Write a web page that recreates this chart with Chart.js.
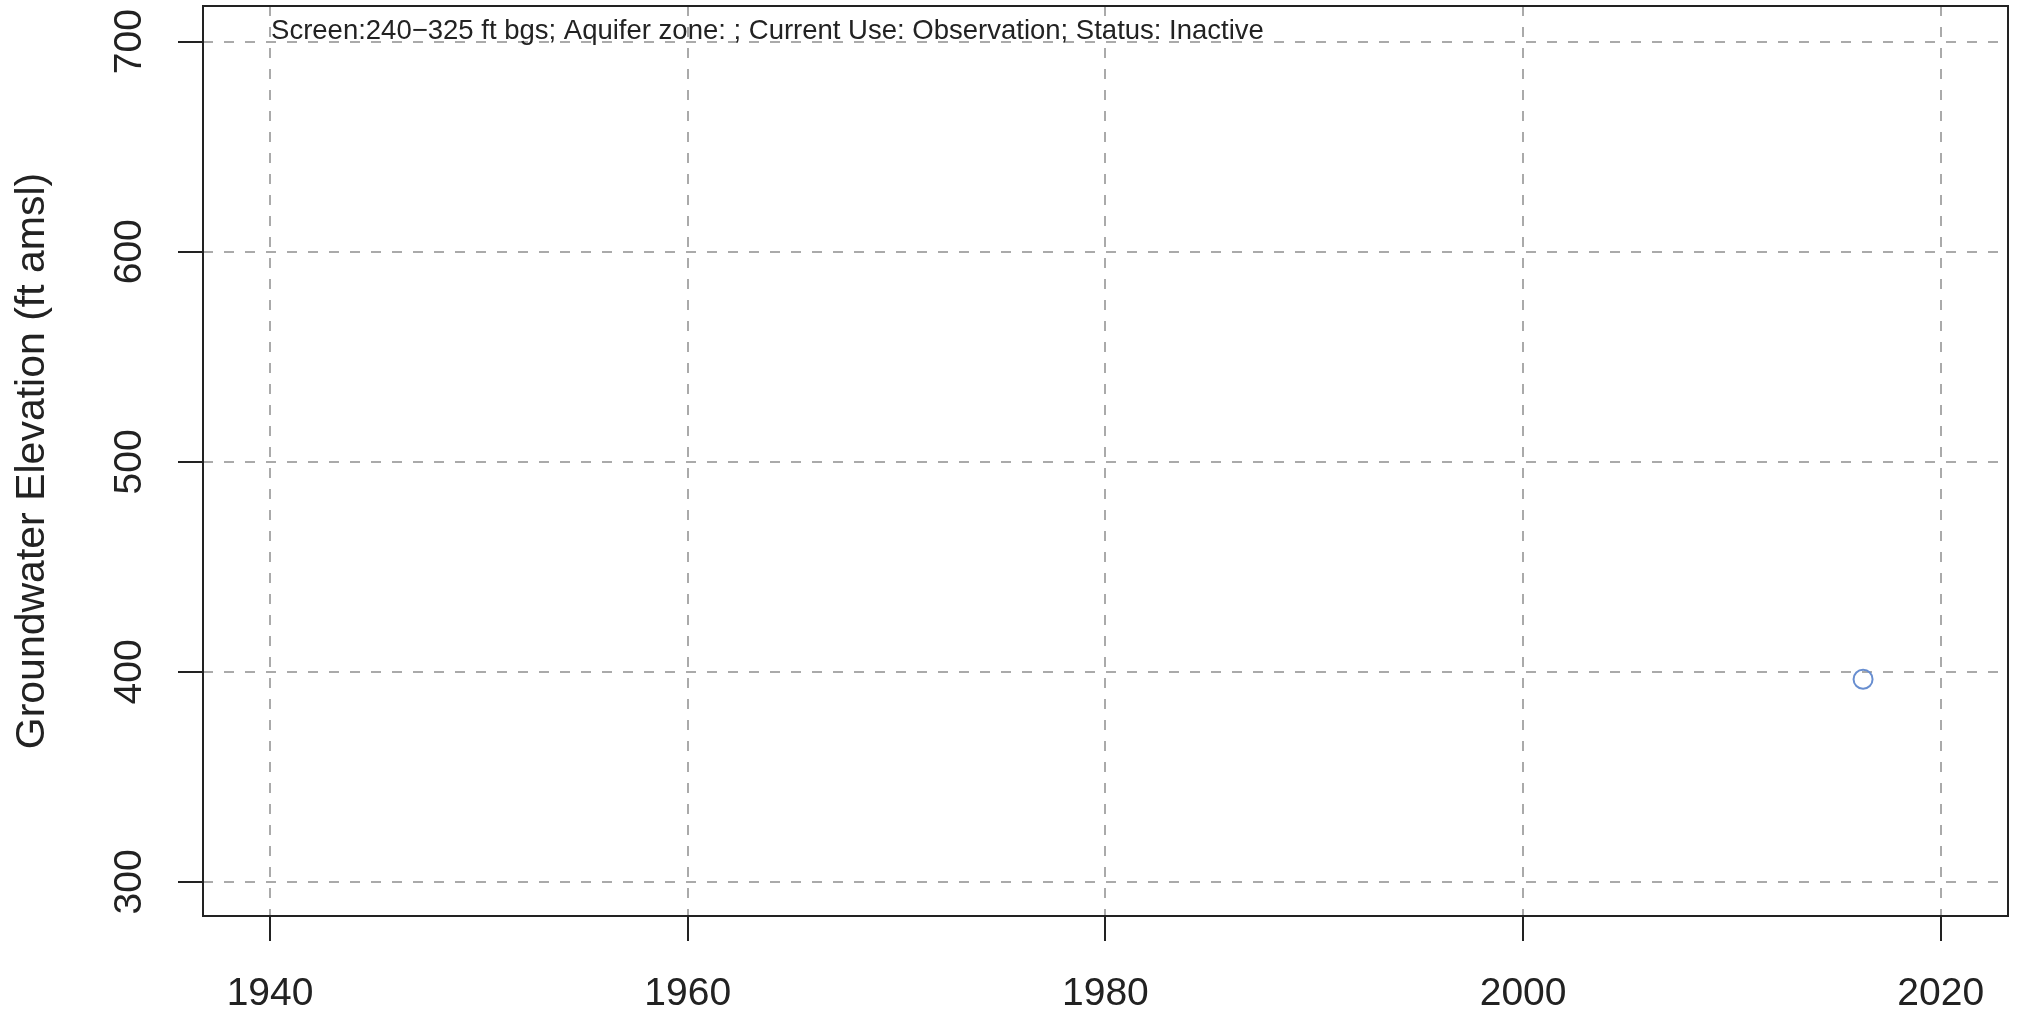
<!DOCTYPE html>
<html>
<head>
<meta charset="utf-8">
<script src="https://cdn.jsdelivr.net/npm/chart.js@4"></script>
<style>
  body { margin: 0; background: #fff; }
  #chart { display: block; }
</style>
</head>
<body>
<canvas id="chart" width="2021" height="1013"></canvas>
<script>
// data
const years = [2016.28];
const elevations = [396.5];
const xTicks = [1940, 1960, 1980, 2000, 2020];
const yTicks = [300, 400, 500, 600, 700];
const note = "Screen:240\u2212325 ft bgs; Aquifer zone: ; Current Use: Observation; Status: Inactive";

const FONT = "'Liberation Sans', Arial, Helvetica, sans-serif";
const INK = "#222";
const GRID = "#aaaaaa";

const frame = {
  id: "frame",
  afterDraw(chart) {
    const { ctx, chartArea: a, scales } = chart;
    ctx.save();
    ctx.strokeStyle = INK;
    ctx.lineWidth = 2;
    ctx.strokeRect(a.left, a.top, a.right - a.left, a.bottom - a.top);

    // y tick labels, rotated like the R plot
    ctx.fillStyle = INK;
    ctx.font = "39px " + FONT;
    ctx.textAlign = "center";
    ctx.textBaseline = "middle";
    scales.y.ticks.forEach((t) => {
      const py = scales.y.getPixelForValue(t.value);
      ctx.save();
      ctx.translate(130, py);
      ctx.rotate(-Math.PI / 2);
      ctx.fillText(String(t.value), 0, 0);
      ctx.restore();
    });

    // header note inside plot
    ctx.font = "27.5px " + FONT;
    ctx.textAlign = "left";
    ctx.textBaseline = "alphabetic";
    ctx.fillText(note, scales.x.getPixelForValue(1940) + 1, 39);
    ctx.restore();
  },
};

new Chart(document.getElementById("chart"), {
  type: "scatter",
  data: {
    datasets: [
      {
        data: years.map((x, i) => ({ x, y: elevations[i] })),
        pointRadius: 9.5,
        pointHoverRadius: 9.5,
        borderWidth: 2,
        borderColor: "rgb(104,142,208)",
        backgroundColor: "rgba(0,0,0,0)",
        showLine: false,
      },
    ],
  },
  options: {
    responsive: false,
    devicePixelRatio: 1,
    animation: false,
    events: [],
    layout: { autoPadding: false, padding: { left: 0, right: 13, top: 6, bottom: 0 } },
    plugins: { legend: { display: false }, tooltip: { enabled: false } },
    scales: {
      x: {
        type: "linear",
        min: 1936.79,
        max: 2023.22,
        afterBuildTicks: (s) => { s.ticks = xTicks.map((v) => ({ value: v })); },
        afterFit: (s) => { s.height = 97; },
        ticks: {
          color: INK,
          font: { family: FONT, size: 39 },
          padding: 30,
          maxRotation: 0,
          minRotation: 0,
          callback: (v) => String(v),
        },
        grid: {
          color: GRID,
          lineWidth: 2,
          tickColor: INK,
          tickWidth: 2,
          tickLength: 25,
          tickBorderDash: [],
        },
        border: { display: false, dash: [10, 11] },
      },
      y: {
        type: "linear",
        min: 283.8,
        max: 717,
        afterBuildTicks: (s) => { s.ticks = yTicks.map((v) => ({ value: v })); },
        afterFit: (s) => { s.width = 203; },
        ticks: { display: false },
        title: {
          display: true,
          text: "Groundwater Elevation (ft amsl)",
          color: INK,
          font: { family: FONT, size: 41 },
          padding: { top: 8, bottom: 0 },
        },
        grid: {
          color: GRID,
          lineWidth: 2,
          tickColor: INK,
          tickWidth: 2,
          tickLength: 25,
          tickBorderDash: [],
        },
        border: { display: false, dash: [10, 11] },
      },
    },
  },
  plugins: [frame],
});
</script>
</body>
</html>
